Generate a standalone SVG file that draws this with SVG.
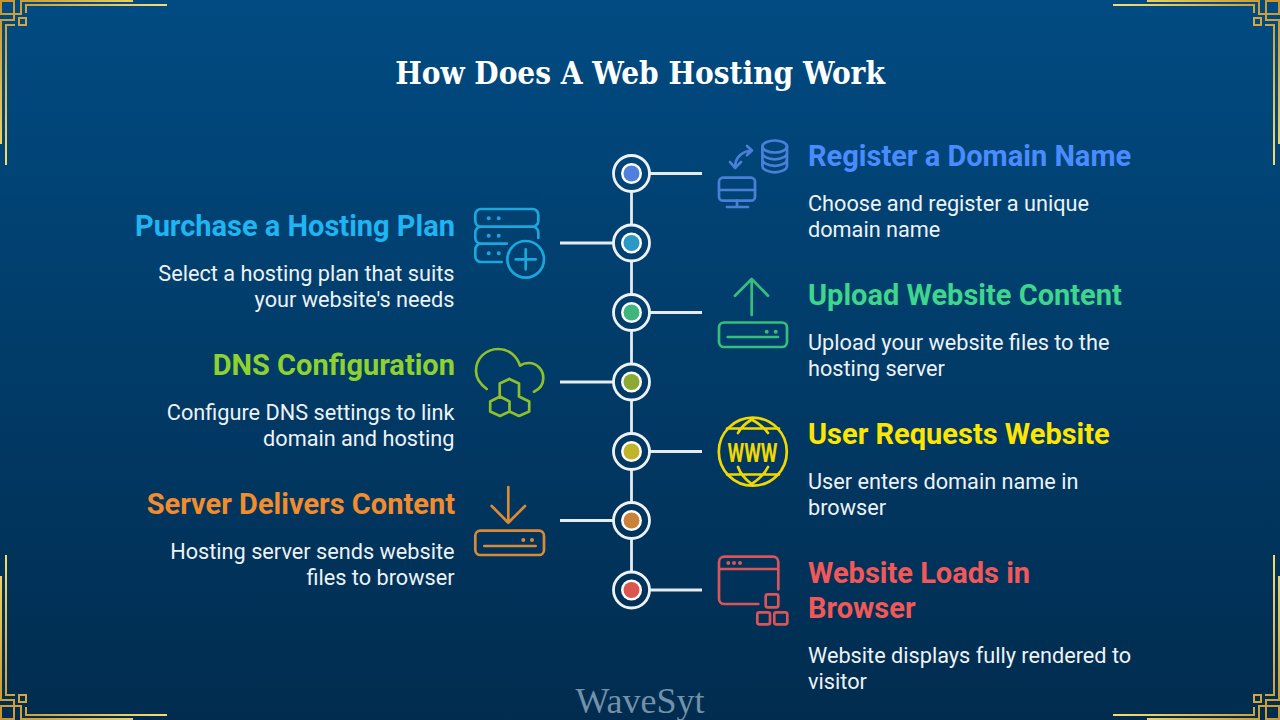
<svg xmlns="http://www.w3.org/2000/svg" width="1280" height="720" viewBox="0 0 1280 720">
<defs>
<linearGradient id="bg" x1="0" y1="0" x2="0" y2="1"><stop offset="0" stop-color="#014b82"/><stop offset="1" stop-color="#012c4f"/></linearGradient>
<linearGradient id="gold" gradientUnits="userSpaceOnUse" x1="0" y1="0" x2="167" y2="165"><stop offset="0" stop-color="#c8932c"/><stop offset="0.5" stop-color="#f3dc6e"/><stop offset="1" stop-color="#bf8a28"/></linearGradient>
<g id="corner" fill="none" stroke="url(#gold)" stroke-width="2">
<path d="M1 144V20H14V14H1V1H14V14H21V0M21 1H133"/>
<path d="M6 165V25H15M26 13V5H167"/>
<rect x="19" y="18" width="7" height="7"/>
</g>
</defs>
<style>
text{font-family:Roboto,"Liberation Sans",sans-serif}
.h{font-size:29px;font-weight:700}
.b{font-size:21.7px;fill:#eef2f6}
.l{text-anchor:end}
.ico{fill:none;stroke-width:2.7;stroke-linecap:round;stroke-linejoin:round}
.ring{fill:none;stroke:#eef2f6;stroke-width:2.8}
.con{fill:none;stroke:#e6ebf0;stroke-width:2.8}
</style>
<rect width="1280" height="720" fill="url(#bg)"/>
<g id="frame">
<use href="#corner"/>
<use href="#corner" transform="translate(1280,0) scale(-1,1)"/>
<use href="#corner" transform="translate(0,720) scale(1,-1)"/>
<use href="#corner" transform="translate(1280,720) scale(-1,-1)"/>
</g>
<text id="title" x="640" y="83.500" text-anchor="middle" fill="#fff" font-size="31.200" font-weight="700" style="font-family:'DejaVu Serif Condensed','DejaVu Serif',serif;font-stretch:condensed">How Does A Web Hosting Work</text>
<g id="connectors" class="con">
<path d="M631.500 191.500V225M631.500 261V294.500M631.500 330.500V364M631.500 400V433.500M631.500 469.500V502.500M631.500 538.500V572"/>
<path d="M649.500 173.500H702M649.500 312.500H702M649.500 451.500H702M649.500 590H702"/>
<path d="M560 243H613.500M560 382H613.500M560 520.500H613.500"/>
</g>
<g id="node-register">
<circle cx="631.500" cy="173.500" r="18" class="ring"/><circle cx="631.500" cy="173.500" r="10.500" fill="#fff"/><circle cx="631.500" cy="173.500" r="8" fill="#4f80dc"/>
<g class="ico" stroke="#4a7fd8">
<ellipse cx="774.700" cy="146.500" rx="12.300" ry="6"/><path d="M762.400 146.500V166C762.400 169.300 768 172.300 774.700 172.300S787 169.300 787 166V146.500M762.400 153C762.400 156.300 768 159.300 774.700 159.300S787 156.300 787 153M762.400 159.500C762.400 162.800 768 165.800 774.700 165.800S787 162.800 787 159.500"/>
<rect x="719" y="177.700" width="36" height="23" rx="4"/><path d="M719 190H755M737 200.700V207M727 207H748"/>
<path d="M735 167C735 158 742 151 752 150.500M747 146L752 150.500L747 155M730 162L735 168L741 162"/>
</g>
<text class="h" x="808" y="166.400" fill="#4a8cff">Register a Domain Name</text>
<text class="b" x="808" y="211.300">Choose and register a unique</text>
<text class="b" x="808" y="237.300">domain name</text>
</g>
<g id="node-purchase">
<circle cx="631.500" cy="243" r="18" class="ring"/><circle cx="631.500" cy="243" r="10.500" fill="#fff"/><circle cx="631.500" cy="243" r="8" fill="#2a9ac4"/>
<g class="ico" stroke="#1ba7dc">
<path d="M481 226.700H532.500A5.800 5.800 0 0 0 538.300 221V215A5.800 5.800 0 0 0 532.500 209H481A5.800 5.800 0 0 0 475.300 215V221A5.800 5.800 0 0 0 481 226.700ZM475.300 232.500V238A5.800 5.800 0 0 0 481 243.700H506.700M475.300 232.500A5.800 5.800 0 0 1 481 226.700M532.500 226.700A5.800 5.800 0 0 1 538.300 232.500V238M481 243.700A5.800 5.800 0 0 0 475.300 249.500V256A5.800 5.800 0 0 0 481 262H501.700"/>
<circle cx="525.700" cy="259.300" r="18.300"/><path d="M525.700 249.300V269.300M515.700 259.300H535.700"/>
<path d="M488.700 218.300h.01M498.700 218.300h.01M488.700 235.700h.01M498.700 235.700h.01M488.700 253.300h.01M498.700 253.300h.01" stroke-width="4"/>
</g>
<text class="h l" x="455" y="236.400" fill="#1fb5f3">Purchase a Hosting Plan</text>
<text class="b l" x="454.500" y="281.300">Select a hosting plan that suits</text>
<text class="b l" x="454.500" y="307.300">your website's needs</text>
</g>
<g id="node-upload">
<circle cx="631.500" cy="312.500" r="18" class="ring"/><circle cx="631.500" cy="312.500" r="10.500" fill="#fff"/><circle cx="631.500" cy="312.500" r="8" fill="#3fb67e"/>
<g class="ico" stroke="#36bf7c">
<path d="M751.700 315V279M735 295.700L751.700 279L768 295.700"/>
<rect x="719" y="322.500" width="68" height="24.500" rx="5"/><path d="M727.700 337H778"/>
<path d="M766.700 331.700h.01M775.700 331.700h.01" stroke-width="4"/>
</g>
<text class="h" x="808" y="305.400" fill="#3dd68c">Upload Website Content</text>
<text class="b" x="808" y="350.300">Upload your website files to the</text>
<text class="b" x="808" y="376.300">hosting server</text>
</g>
<g id="node-dns">
<circle cx="631.500" cy="382" r="18" class="ring"/><circle cx="631.500" cy="382" r="10.500" fill="#fff"/><circle cx="631.500" cy="382" r="8" fill="#8aa935"/>
<g class="ico" stroke="#8fbf2c">
<path d="M486.700 389C480 384 476 378 476 371C476 358 486 349 498.300 349C509 349 517 356 520 365.700C523 363.500 526 363 529 363C537 363 543.300 370 543.300 378C543.300 384 540 389 534 391.700"/>
<path d="M509.300 379L519 383.500V396.500M499.700 396.500V383.500L509.300 379M500 396.500L509.500 401.500V411.500L500 416L490.200 411.500V401.500ZM519 396.500L529.200 401.500V411.500L519 416L509.500 411.500"/>
</g>
<text class="h l" x="455" y="375.400" fill="#8fd12f">DNS Configuration</text>
<text class="b l" x="454.500" y="420.300">Configure DNS settings to link</text>
<text class="b l" x="454.500" y="446.300">domain and hosting</text>
</g>
<g id="node-request">
<circle cx="631.500" cy="451.500" r="18" class="ring"/><circle cx="631.500" cy="451.500" r="10.500" fill="#fff"/><circle cx="631.500" cy="451.500" r="8" fill="#c2b42a"/>
<g class="ico" stroke="#f1d900">
<circle cx="752.800" cy="451.700" r="34"/>
<path d="M727 428.500H779M727 474.500H779M738 433C741 427 746 423 751.700 419.500C758 423 764 427 768 433M738 467C741 475 746 480 751.700 484C758 480 764 475 768 467"/>
</g>
<text x="752.500" y="461.500" text-anchor="middle" textLength="50" lengthAdjust="spacingAndGlyphs" fill="#f1d900" font-size="25" font-weight="700">WWW</text>
<text class="h" x="808" y="444.400" fill="#ffe600">User Requests Website</text>
<text class="b" x="808" y="489.300">User enters domain name in</text>
<text class="b" x="808" y="515.300">browser</text>
</g>
<g id="node-deliver">
<circle cx="631.500" cy="520.500" r="18" class="ring"/><circle cx="631.500" cy="520.500" r="10.500" fill="#fff"/><circle cx="631.500" cy="520.500" r="8" fill="#c9823a"/>
<g class="ico" stroke="#d98a38">
<path d="M508.300 487V522.700M491.700 506L508.300 522.700L525 506"/>
<rect x="475.300" y="530.700" width="68.700" height="24.300" rx="5"/><path d="M484.300 546H535.700"/>
<path d="M523.300 540h.01M532 540h.01" stroke-width="4"/>
</g>
<text class="h l" x="455" y="514.400" fill="#f28c2c">Server Delivers Content</text>
<text class="b l" x="454.500" y="559.300">Hosting server sends website</text>
<text class="b l" x="454.500" y="585.300">files to browser</text>
</g>
<g id="node-load">
<circle cx="631.500" cy="590" r="18" class="ring"/><circle cx="631.500" cy="590" r="10.500" fill="#fff"/><circle cx="631.500" cy="590" r="8" fill="#dc5650"/>
<g class="ico" stroke="#d9555a">
<path d="M778.300 589.300V562A5.300 5.300 0 0 0 773 556.700H724.300A5.300 5.300 0 0 0 719 562V598.700A5.300 5.300 0 0 0 724.300 604H758.300M719 569H778.300"/>
<rect x="765.700" y="594.300" width="12.600" height="13" rx="2"/><rect x="757.300" y="612.300" width="12.700" height="12" rx="2"/><rect x="774.300" y="612.300" width="13" height="12" rx="2"/>
<path d="M728.300 563h.01M734 563h.01M740 563h.01" stroke-width="4"/>
</g>
<text class="h" x="808" y="583.400" fill="#f25858">Website Loads in</text>
<text class="h" x="808" y="618.400" fill="#f25858">Browser</text>
<text class="b" x="808" y="663.300">Website displays fully rendered to</text>
<text class="b" x="808" y="689.300">visitor</text>
</g>
<text id="wm" x="640" y="713" text-anchor="middle" fill="#7391a8" font-size="36" style="font-family:'Liberation Serif',serif">WaveSyt</text>
</svg>
